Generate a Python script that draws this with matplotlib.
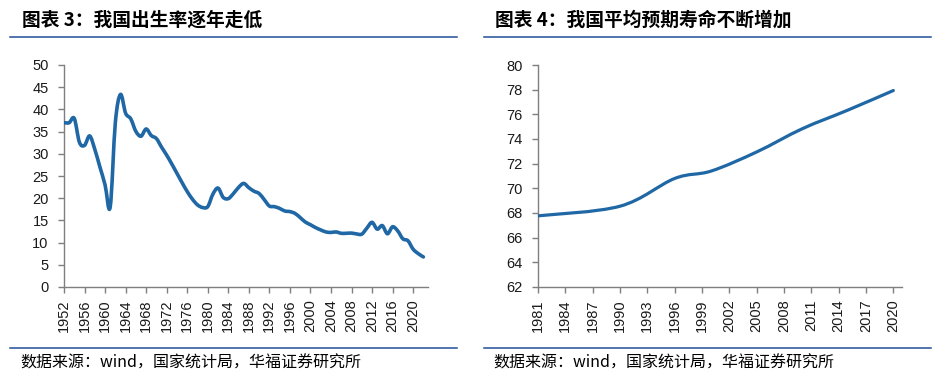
import numpy as np
import matplotlib
matplotlib.use("Agg")
import matplotlib.pyplot as plt
from matplotlib.path import Path
from matplotlib.patches import PathPatch

# ---------------- data ----------------
birth_years = list(range(1952, 2023))
birth_rate = [37.00, 37.00, 37.97, 32.60, 31.90, 34.03, 31.00, 27.00, 23.00, 18.02,
              37.01, 43.37, 39.14, 37.88, 35.05, 33.96, 35.59, 34.11, 33.43, 31.50,
              29.70, 27.70, 25.60, 23.50, 21.50, 19.80, 18.50, 17.90, 18.10, 20.91,
              22.28, 20.19, 19.90, 21.04, 22.43, 23.33, 22.37, 21.58, 21.06, 19.68,
              18.24, 18.09, 17.70, 17.12, 16.98, 16.57, 15.64, 14.64, 14.03, 13.38,
              12.86, 12.41, 12.29, 12.40, 12.09, 12.10, 12.14, 11.95, 11.90, 13.27,
              14.57, 13.03, 13.83, 11.99, 13.57, 12.64, 10.86, 10.41, 8.52, 7.52,
              6.77]
birth_xticks = list(range(1952, 2021, 4))
birth_yticks = list(range(0, 51, 5))

life_years = [1981, 1990, 1996, 2000, 2005, 2010, 2015, 2020]
life_exp = [67.77, 68.55, 70.80, 71.40, 72.95, 74.83, 76.34, 77.93]
life_xticks = list(range(1981, 2021, 3))
life_yticks = list(range(62, 81, 2))

title_left = "图表 3：我国出生率逐年走低"
title_right = "图表 4：我国平均预期寿命不断增加"
source_text = "数据来源：wind，国家统计局，华福证券研究所"

# ---------------- style ----------------
LINE = "#1f68a5"
RULE = "#1f4e96"
AXC = "#7f7f7f"
CJK = ["Noto Sans CJK SC", "DejaVu Sans"]
NUM = ["Liberation Sans", "DejaVu Sans"]

W, H = 952, 382
fig = plt.figure(figsize=(W / 100, H / 100), dpi=100)


def px_axes(x0, y0, x1, y1):
    return fig.add_axes([x0 / W, 1 - y1 / H, (x1 - x0) / W, (y1 - y0) / H])


def smooth_patch(ax, x, y, lw):
    pts = np.column_stack([np.asarray(x, float), np.asarray(y, float)])
    verts = [pts[0]]
    codes = [Path.MOVETO]
    n = len(pts)
    for i in range(n - 1):
        p0 = pts[i - 1] if i > 0 else pts[i]
        p1 = pts[i]
        p2 = pts[i + 1]
        p3 = pts[i + 2] if i + 2 < n else pts[i + 1]
        c1 = p1 + (p2 - p0) / 6.0
        c2 = p2 - (p3 - p1) / 6.0
        verts += [c1, c2, p2]
        codes += [Path.CURVE4] * 3
    patch = PathPatch(Path(verts, codes), fill=False, edgecolor=LINE, lw=lw,
                      capstyle="round", joinstyle="round", zorder=3)
    ax.add_patch(patch)


def style_axes(ax, xticks, yticks, xlim, ylim):
    ax.set_xlim(*xlim)
    ax.set_ylim(*ylim)
    ax.set_xticks(xticks)
    ax.set_yticks(yticks)
    ax.set_xticklabels([str(t) for t in xticks], rotation=90, fontsize=10.5,
                       family=NUM, color="#1a1a1a")
    ax.set_yticklabels([str(t) for t in yticks], fontsize=10.5, family=NUM,
                       color="#1a1a1a")
    for s in ("top", "right"):
        ax.spines[s].set_visible(False)
    for s in ("left", "bottom"):
        ax.spines[s].set_color(AXC)
        ax.spines[s].set_linewidth(1.0)
    ax.tick_params(axis="both", direction="out", length=4, width=1.0,
                   color=AXC)
    ax.tick_params(axis="y", pad=7)
    ax.tick_params(axis="x", pad=5)
    ax.patch.set_alpha(0)


# left chart
axL = px_axes(64, 65, 428, 287)
smooth_patch(axL, birth_years, birth_rate, 2.6)
style_axes(axL, birth_xticks, birth_yticks, (1952, 2022.9), (0, 50))

# right chart
axR = px_axes(538, 65, 902, 287)
smooth_patch(axR, life_years, life_exp, 2.3)
style_axes(axR, life_xticks, life_yticks, (1981, 2020.95), (62, 80))

# titles, rules, sources
fig.text(22 / W, 1 - 20 / H, title_left, family=CJK, fontsize=13.5,
         fontweight="bold", va="center", ha="left", color="black")
fig.text(495 / W, 1 - 20 / H, title_right, family=CJK, fontsize=13.5,
         fontweight="bold", va="center", ha="left", color="black")

for (x0, x1) in ((10, 457), (484, 931)):
    for yy in (37.3, 348.3):
        fig.add_artist(plt.Line2D([x0 / W, x1 / W], [1 - yy / H, 1 - yy / H],
                                  color=RULE, lw=1.1, transform=fig.transFigure))

fig.text(20 / W, 1 - 363 / H, source_text, family=CJK, fontsize=11.5,
         va="center", ha="left", color="black")
fig.text(493 / W, 1 - 363 / H, source_text, family=CJK, fontsize=11.5,
         va="center", ha="left", color="black")

fig.savefig("out.png", dpi=100)
